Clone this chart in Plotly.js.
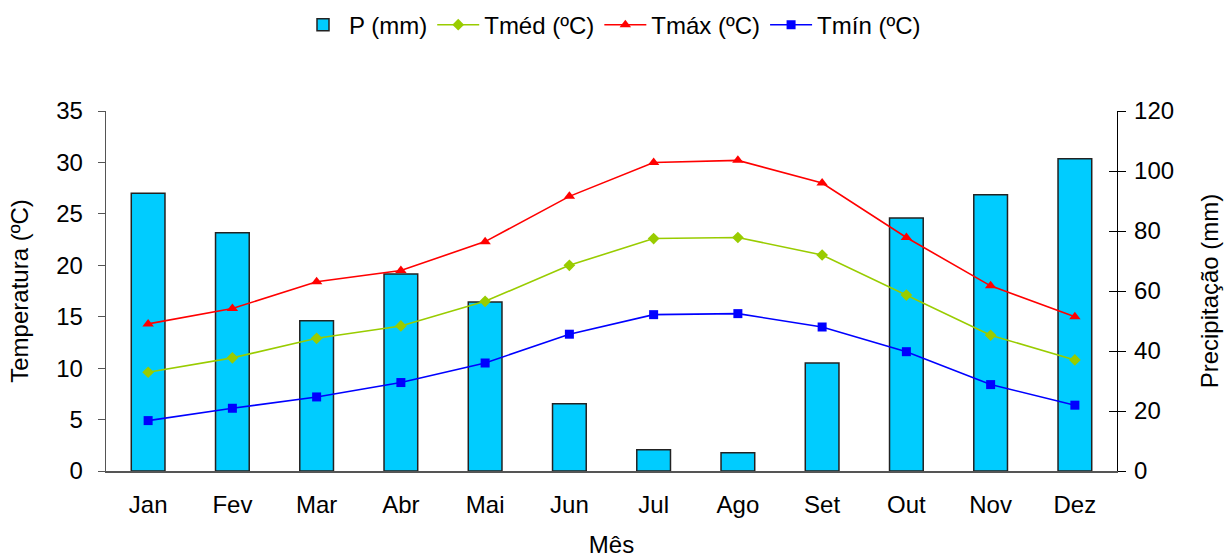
<!DOCTYPE html>
<html>
<head>
<meta charset="utf-8">
<script src="https://cdn.plot.ly/plotly-3.0.1.min.js"></script>
<style>html,body{margin:0;padding:0;background:#fff;}#chart{width:1224px;height:558px;}</style>
</head>
<body>
<div id="chart"></div>
<script>
const months = ["Jan","Fev","Mar","Abr","Mai","Jun","Jul","Ago","Set","Out","Nov","Dez"];
const precip = [92.6, 79.4, 50.1, 65.7, 56.3, 22.4, 7.1, 6.1, 36.0, 84.3, 92.1, 104.1];
const tmed = [9.6, 11.0, 12.9, 14.1, 16.5, 20.0, 22.6, 22.7, 21.0, 17.1, 13.2, 10.8];
const tmax = [14.3, 15.8, 18.4, 19.5, 22.3, 26.7, 30.0, 30.2, 28.0, 22.7, 18.0, 15.0];
const tmin = [4.9, 6.1, 7.2, 8.6, 10.5, 13.3, 15.2, 15.3, 14.0, 11.6, 8.4, 6.4];

const FONT = "Liberation Sans, Arial, sans-serif";
const FS = 24;

const traces = [
  {type:"bar", name:"P (mm)", x:months, y:precip, xaxis:"x", yaxis:"y", width:0.4,
   marker:{color:"#00CCFF", line:{color:"#222222", width:1.5}}},
  {type:"scatter", mode:"lines+markers", name:"Tméd (ºC)", x:months, y:tmed, xaxis:"x", yaxis:"y2",
   line:{color:"#99CC00", width:1.6}, marker:{symbol:"diamond", size:9, color:"#99CC00"}},
  {type:"scatter", mode:"lines+markers", name:"Tmáx (ºC)", x:months, y:tmax, xaxis:"x", yaxis:"y2",
   line:{color:"#FF0000", width:1.6}, marker:{symbol:"triangle-up", size:10, color:"#FF0000"}},
  {type:"scatter", mode:"lines+markers", name:"Tmín (ºC)", x:months, y:tmin, xaxis:"x", yaxis:"y2",
   line:{color:"#0000FF", width:1.6}, marker:{symbol:"square", size:9, color:"#0000FF"}},
  {type:"scatter", mode:"markers", x:months, y:precip, xaxis:"x", yaxis:"y3", showlegend:false,
   hoverinfo:"skip", marker:{opacity:0}}
];

const layout = {
  width:1224, height:558,
  paper_bgcolor:"#ffffff", plot_bgcolor:"#ffffff",
  font:{family:FONT, size:FS, color:"#000"},
  margin:{l:106, r:107, t:111, b:87, autoexpand:false},
  showlegend:true,
  legend:{orientation:"h", x:0.5, xanchor:"center", xref:"paper", yref:"container", y:0.955, yanchor:"middle",
          font:{family:FONT, size:FS}, traceorder:"normal", itemwidth:42, tracegroupgap:0},
  bargap:0.6,
  xaxis:{type:"category", range:[-0.5, 11.5], showline:true, linecolor:"#555555", linewidth:1.5,
         ticks:"", showgrid:false, zeroline:false, ticklabelstandoff:12, automargin:true,
         tickfont:{family:FONT, size:FS},
         title:{text:"Mês", font:{family:FONT, size:FS}, standoff:26}},
  yaxis:{side:"right", range:[0,120], dtick:20, showline:true, linecolor:"#000", linewidth:1.3,
         ticks:"outside", ticklen:8, tickcolor:"#000", showgrid:false, zeroline:false,
         ticklabelstandoff:3, tickfont:{family:FONT, size:FS},
         title:{text:"Precipitação (mm)", font:{family:FONT, size:FS}, standoff:28}},
  yaxis2:{overlaying:"y", side:"left", range:[0,35], dtick:5, showline:true, linecolor:"#555555", linewidth:1.3,
          ticks:"outside", ticklen:7, tickcolor:"#555555", showgrid:false, zeroline:false,
          ticklabelstandoff:10, tickfont:{family:FONT, size:FS},
          title:{text:"Temperatura (ºC)", font:{family:FONT, size:FS}, standoff:20}},
  yaxis3:{overlaying:"y", side:"right", range:[0,120], dtick:20, showline:false,
          ticks:"inside", ticklen:8, tickcolor:"#000", showticklabels:false, showgrid:false, zeroline:false}
};

Plotly.newPlot("chart", traces, layout, {displayModeBar:false, staticPlot:true});
</script>
</body>
</html>
